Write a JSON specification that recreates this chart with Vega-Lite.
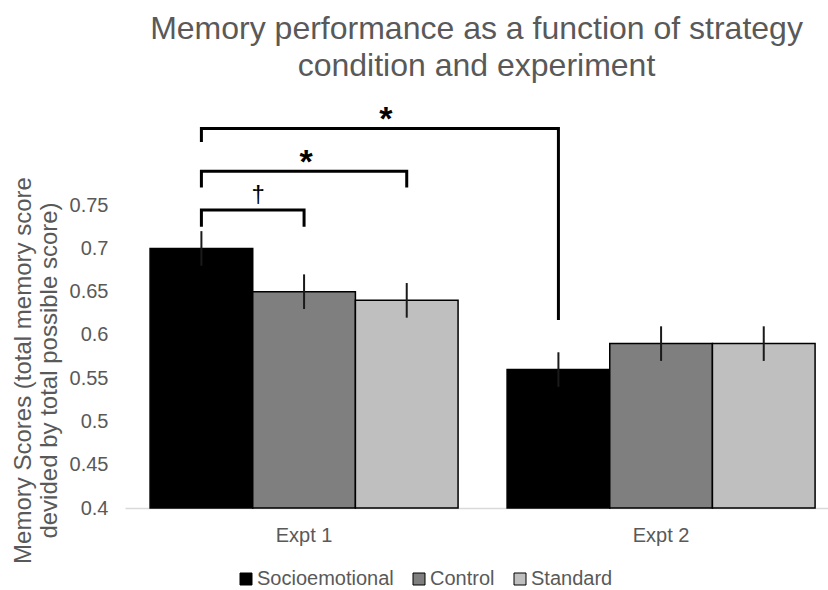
{
  "$schema": "https://vega.github.io/schema/vega-lite/v6.json",
  "width": 703,
  "height": 398,
  "autosize": {"type": "none"},
  "padding": {"left": 125, "top": 110, "right": 0, "bottom": 82},
  "background": "white",
  "config": {
    "view": {"stroke": null},
    "font": "Liberation Sans"
  },
  "title": {
    "text": ["Memory performance as a function of strategy", "condition and experiment"],
    "fontSize": 32,
    "fontWeight": "normal",
    "color": "#595959",
    "lineHeight": 37,
    "anchor": "middle",
    "offset": 20
  },
  "datasets": {
    "scores": [
      {"Expt": "Expt 1", "Condition": "Socioemotional", "score": 0.70, "lo": 0.68, "hi": 0.72},
      {"Expt": "Expt 1", "Condition": "Control", "score": 0.65, "lo": 0.63, "hi": 0.67},
      {"Expt": "Expt 1", "Condition": "Standard", "score": 0.64, "lo": 0.62, "hi": 0.66},
      {"Expt": "Expt 2", "Condition": "Socioemotional", "score": 0.56, "lo": 0.54, "hi": 0.58},
      {"Expt": "Expt 2", "Condition": "Control", "score": 0.59, "lo": 0.57, "hi": 0.61},
      {"Expt": "Expt 2", "Condition": "Standard", "score": 0.59, "lo": 0.57, "hi": 0.61}
    ],
    "brackets": [
      {"bracket": "b1", "step": 1, "Expt": "Expt 1", "Condition": "Socioemotional", "y": 0.725},
      {"bracket": "b1", "step": 2, "Expt": "Expt 1", "Condition": "Socioemotional", "y": 0.7444},
      {"bracket": "b1", "step": 3, "Expt": "Expt 1", "Condition": "Control", "y": 0.7444},
      {"bracket": "b1", "step": 4, "Expt": "Expt 1", "Condition": "Control", "y": 0.725},
      {"bracket": "b2", "step": 1, "Expt": "Expt 1", "Condition": "Socioemotional", "y": 0.7705},
      {"bracket": "b2", "step": 2, "Expt": "Expt 1", "Condition": "Socioemotional", "y": 0.7893},
      {"bracket": "b2", "step": 3, "Expt": "Expt 1", "Condition": "Standard", "y": 0.7893},
      {"bracket": "b2", "step": 4, "Expt": "Expt 1", "Condition": "Standard", "y": 0.7705},
      {"bracket": "b3", "step": 1, "Expt": "Expt 1", "Condition": "Socioemotional", "y": 0.8231},
      {"bracket": "b3", "step": 2, "Expt": "Expt 1", "Condition": "Socioemotional", "y": 0.8386},
      {"bracket": "b3", "step": 3, "Expt": "Expt 2", "Condition": "Socioemotional", "y": 0.8386},
      {"bracket": "b3", "step": 4, "Expt": "Expt 2", "Condition": "Socioemotional", "y": 0.6172}
    ],
    "marks": [
      {"label": "†", "Expt": "Expt 1", "Condition": "Control", "y": 0.7535},
      {"label": "*", "Expt": "Expt 1", "Condition": "Control", "y": 0.7875},
      {"label": "*", "Expt": "Expt 1", "Condition": "Standard", "y": 0.8374}
    ]
  },
  "encoding": {
    "x": {
      "field": "Expt",
      "type": "nominal",
      "scale": {"paddingInner": 0.1373, "paddingOuter": 0.0532, "align": 0.66},
      "axis": {
        "title": null,
        "labelAngle": 0,
        "labelFontSize": 20,
        "labelColor": "#595959",
        "labelPadding": 17,
        "ticks": false,
        "domainColor": "#d9d9d9",
        "domainWidth": 1.5
      }
    },
    "xOffset": {
      "field": "Condition",
      "type": "nominal",
      "scale": {"domain": ["Socioemotional", "Control", "Standard"], "paddingInner": 0, "paddingOuter": 0}
    }
  },
  "layer": [
    {
      "data": {"name": "scores"},
      "mark": {"type": "bar", "stroke": "#000000", "strokeWidth": 1.5},
      "encoding": {
        "y": {
          "field": "score",
          "type": "quantitative",
          "scale": {"domain": [0.4, 0.86], "nice": false, "zero": false},
          "axis": {
            "values": [0.4, 0.45, 0.5, 0.55, 0.6, 0.65, 0.7, 0.75],
            "format": ".2~f",
            "title": ["Memory Scores (total memory score", "devided by total possible score)"],
            "titleFontSize": 24,
            "titleFontWeight": "normal",
            "titleColor": "#595959",
            "titleY": 260,
            "titlePadding": 8,
            "titleLineHeight": 26,
            "labelFontSize": 20,
            "labelColor": "#595959",
            "labelPadding": 17,
            "ticks": false,
            "domain": false,
            "grid": false
          }
        },
        "y2": {"datum": 0.4},
        "color": {
          "field": "Condition",
          "type": "nominal",
          "scale": {"domain": ["Socioemotional", "Control", "Standard"], "range": ["#000000", "#7f7f7f", "#bfbfbf"]},
          "legend": {
            "title": null,
            "orient": "none",
            "legendX": 111,
            "legendY": 459,
            "direction": "horizontal",
            "symbolType": "square",
            "symbolSize": 144,
            "symbolStrokeColor": "#000000",
            "symbolStrokeWidth": 1,
            "labelFontSize": 20,
            "labelColor": "#595959",
            "labelOffset": 1,
            "columnPadding": 15,
            "labelLimit": 300,
            "padding": 0
          }
        }
      }
    },
    {
      "data": {"name": "scores"},
      "mark": {"type": "rule", "color": "#1a1a1a", "strokeWidth": 2},
      "encoding": {
        "y": {"field": "lo", "type": "quantitative"},
        "y2": {"field": "hi"}
      }
    },
    {
      "data": {"name": "brackets"},
      "mark": {"type": "line", "color": "#000000", "strokeWidth": 3, "strokeJoin": "miter", "strokeCap": "butt"},
      "encoding": {
        "y": {"field": "y", "type": "quantitative"},
        "detail": {"field": "bracket"},
        "order": {"field": "step", "type": "quantitative"}
      }
    },
    {
      "data": {"name": "marks"},
      "transform": [{"filter": "datum.label == '†'"}],
      "mark": {"type": "text", "fontSize": 24, "color": "#000000", "baseline": "alphabetic", "dx": -46},
      "encoding": {
        "y": {"field": "y", "type": "quantitative"},
        "text": {"field": "label"}
      }
    },
    {
      "data": {"name": "marks"},
      "transform": [{"filter": "datum.label == '*' && datum.Condition == 'Control'"}],
      "mark": {"type": "text", "fontSize": 34, "fontWeight": "bold", "color": "#000000", "baseline": "alphabetic", "dx": 2},
      "encoding": {
        "y": {"field": "y", "type": "quantitative"},
        "text": {"field": "label"}
      }
    },
    {
      "data": {"name": "marks"},
      "transform": [{"filter": "datum.label == '*' && datum.Condition == 'Standard'"}],
      "mark": {"type": "text", "fontSize": 34, "fontWeight": "bold", "color": "#000000", "baseline": "alphabetic", "dx": -21},
      "encoding": {
        "y": {"field": "y", "type": "quantitative"},
        "text": {"field": "label"}
      }
    }
  ]
}
